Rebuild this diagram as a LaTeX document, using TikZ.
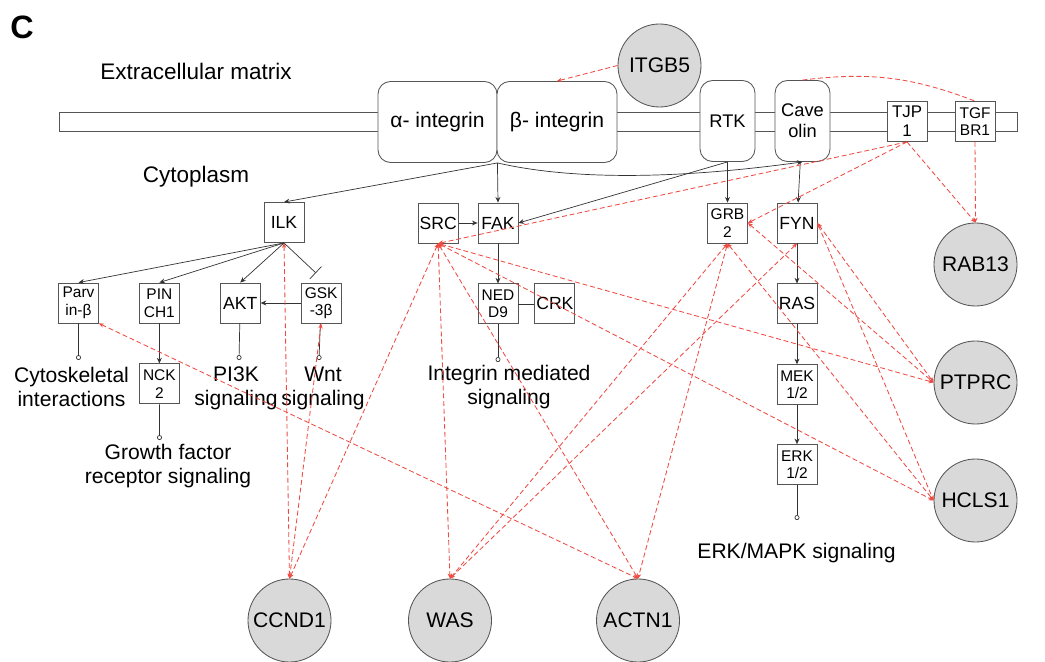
\documentclass[tikz,border=0pt]{standalone}
\usepackage{fontspec}
\setmainfont{Liberation Sans}
\usepackage{tikz}
\usetikzlibrary{arrows.meta,positioning,calc}
\definecolor{LineGray}{HTML}{555555}
\definecolor{GeneGray}{HTML}{D9D9D9}
\definecolor{LinkRed}{HTML}{EE4B43}
\tikzset{
  PB/.style={rectangle,draw=LineGray,fill=white,line width=0.6pt,
             minimum width=1cm,minimum height=1cm,inner sep=1pt,
             text centered,align=center,font=\fontsize{11}{12.5}\selectfont},
  P1/.style={PB,font=\fontsize{12.5}{14}\selectfont},
  RB/.style={PB,rounded corners=9pt,minimum height=2.025cm,
             font=\fontsize{15}{17}\selectfont},
  GC/.style={circle,draw=LineGray,fill=GeneGray,line width=0.6pt,
             minimum size=2.075cm,inner sep=0pt,font=\fontsize{15}{17}\selectfont},
  LB/.style={align=center,font=\fontsize{15}{17}\selectfont},
  arr/.style={-{Stealth[length=4pt,width=3.5pt]},line width=0.5pt,draw=black!80},
  inh/.style={-{Bar[width=12pt]},line width=0.5pt,draw=black!80},
  term/.style={-{Circle[open,length=3.5pt]},line width=0.5pt,draw=black!80},
  rel/.style={{Stealth[length=3.5pt,width=3pt]}-{Stealth[length=3.5pt,width=3pt]},
              dash pattern=on 3.5pt off 2pt,draw=LinkRed,line width=0.6pt},
  relx/.style={rel,-{Stealth[length=3.5pt,width=3pt]}}
}

\begin{document}
\begin{tikzpicture}[x=0.025cm,y=-0.025cm]
  \useasboundingbox (0,0) rectangle (1045,662);
  \node[font=\bfseries\fontsize{23}{25}\selectfont] (lbl) at (22,27) {C};
  \node[LB,font=\fontsize{16}{18}\selectfont] (ecm) at (196,71) {Extracellular matrix};
  \node[LB,font=\fontsize{16}{18}\selectfont] (cyt) at (196,177) {Cytoplasm};
  \draw[draw=LineGray,line width=0.6pt] (59,112) rectangle (1017,131);

  \node[RB,minimum width=2.975cm] (alpha) at (437.5,122) {α- integrin};
  \node[RB,minimum width=3cm] (beta) at (557,122) {β- integrin};
  \node[RB,minimum width=1.375cm,font=\fontsize{13}{15}\selectfont] (rtk) at (727.5,121) {RTK};
  \node[RB,minimum width=1.375cm,font=\fontsize{13}{15}\selectfont] (cav) at (802.5,121) {Cave\\olin};
  \node[PB,font=\fontsize{12}{13.5}\selectfont] (tjp) at (907,121.5) {TJP\\1};
  \node[PB] (tgf) at (975,121.5) {TGF\\BR1};

  \node[P1] (ilk) at (284,222.5) {ILK};
  \node[P1] (fak) at (498,223) {FAK};
  \node[P1,left=0.475cm of fak] (src) {SRC};
  \node[PB] (grb) at (727.5,223) {GRB\\2};
  \node[P1] (fyn) at (797,223) {FYN};
  \node[PB] (parv) at (78.5,303) {Parv\\in-β};
  \node[PB,right=1cm of parv] (pinch) {PIN\\CH1};
  \node[P1,right=1cm of pinch] (akt) {AKT};
  \node[PB,right=1cm of akt] (gsk) {GSK\\-3β};
  \node[PB,below=1cm of pinch] (nck) {NCK\\2};
  \node[PB,below=1cm of fak] (nedd) {NED\\D9};
  \node[P1,right=0.4cm of nedd] (crk) {CRK};
  \node[P1,below=1cm of fyn] (ras) {RAS};
  \node[PB,below=1cm of ras] (mek) {MEK\\1/2};
  \node[PB,below=0.975cm of mek] (erk) {ERK\\1/2};

  \node[GC] (itgb) at (659.5,65.5) {ITGB5};
  \node[GC] (rab) at (975.5,264.5) {RAB13};
  \node[GC] (ptprc) at (975.5,382.5) {PTPRC};
  \node[GC] (hcls) at (975.5,500.5) {HCLS1};
  \node[GC] (ccnd) at (289.5,620.5) {CCND1};
  \node[GC] (was) at (450,620.5) {WAS};
  \node[GC] (actn) at (638,620.5) {ACTN1};

  \coordinate (tparv) at (78.5,360);
  \coordinate (tnck) at (159.5,440);
  \coordinate (takt) at (239,360);
  \coordinate (tgsk) at (319,360);
  \coordinate (tnedd) at (498,362);
  \coordinate (terk) at (797,520);
  \node[LB] (lcyto) at (71.5,387) {Cytoskeletal\\interactions};
  \node[LB] (lpi3k) at (236,388) {PI3K\\signaling};
  \node[LB] (lwnt) at (323,388) {Wnt\\signaling};
  \node[LB] (lgrow) at (168,466) {Growth factor\\receptor signaling};
  \node[LB] (lint) at (509,387) {Integrin mediated\\signaling};
  \node[LB] (lerk) at (796.5,553) {ERK/MAPK signaling};

  \draw[arr](alpha.south east)--(ilk.north);
  \draw[arr](alpha.south east)--(fak.north);
  \draw[arr](alpha.south east) .. controls (585,183) and (700,176) .. (cav.south);
  \draw[arr](rtk.south)--(fak.east);
  \draw[arr](rtk)--(grb);
  \draw[arr](cav)--(fyn);
  \draw[arr](src)--(fak);
  \draw[arr](fak)--(nedd);
  \draw[line width=0.5pt,draw=black!80](nedd)--(crk);
  \draw[arr](ilk.south)--(parv.north);
  \draw[arr](ilk.south)--(pinch.north);
  \draw[arr](ilk.south)--(akt.north);
  \draw[inh,shorten >=0.35cm](ilk.south)--($(gsk.north)+(5,0)$);
  \draw[arr](gsk)--(akt);
  \draw[arr](pinch)--(nck);
  \draw[arr](fyn)--(ras);
  \draw[arr](ras)--(mek);
  \draw[arr](mek)--(erk);
  \draw[term](parv)--(tparv);
  \draw[term](nck)--(tnck);
  \draw[term](akt)--(takt);
  \draw[term](gsk)--(tgsk);
  \draw[term](nedd)--(tnedd);
  \draw[term](erk)--(terk);

  \draw[relx](itgb.west)--(beta.north);
  \draw[rel,-](cav.north) to[bend left=14] (tgf.north);
  \draw[relx](tjp.south)--(src.south);
  \draw[relx](tjp.south)--(grb.east);
  \draw[relx](tjp.south)--(rab.north);
  \draw[relx](tgf.south)--(rab.north);
  \draw[rel](ilk.south)--(ccnd.north);
  \draw[rel](gsk.south)--(ccnd.north);
  \draw[rel](src.south)--(ccnd.north);
  \draw[rel](src.south)--(was.north);
  \draw[rel](src.south)--(actn.north);
  \draw[rel](src.south)--(ptprc.west);
  \draw[rel](src.south)--(hcls.west);
  \draw[rel](parv.south east)--(actn.north);
  \draw[rel](grb.south)--(was.north);
  \draw[rel](grb.south)--(actn.north);
  \draw[rel](grb.south)--(hcls.west);
  \draw[rel](grb.east)--(ptprc.west);
  \draw[rel](fyn.south)--(was.north);
  \draw[rel](fyn.east)--(ptprc.west);
  \draw[rel](fyn.east)--(hcls.west);
\end{tikzpicture}
\end{document}
